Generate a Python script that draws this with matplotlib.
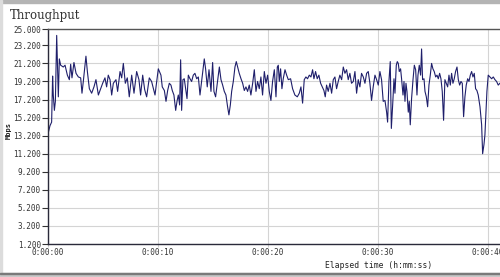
import numpy as np
import matplotlib
matplotlib.use('Agg')
from matplotlib import pyplot as plt
from matplotlib.patches import Rectangle

# elapsed time in seconds, throughput in Mbps
times = [0.00, 0.18, 0.33, 0.42, 0.48, 0.58, 0.67, 0.79, 0.94, 1.03, 1.15, 1.39, 1.55, 1.76,
         1.94, 2.06, 2.18, 2.36, 2.55, 2.76, 2.97, 3.09, 3.21, 3.45, 3.58, 3.76, 3.97, 4.18,
         4.36, 4.58, 4.79, 4.97, 5.18, 5.33, 5.48, 5.64, 5.79, 5.94, 6.18, 6.33, 6.55, 6.70,
         6.85, 7.03, 7.21, 7.39, 7.61, 7.82, 8.06, 8.27, 8.42, 8.61, 8.79, 8.97, 9.21, 9.42,
         9.73, 10.03,
         10.27, 10.39, 10.58, 10.73, 10.88, 11.03, 11.18, 11.30, 11.45, 11.61, 11.73, 11.85,
         11.97, 12.06, 12.15, 12.27, 12.39, 12.52, 12.64, 12.76, 12.91, 13.06, 13.21, 13.36,
         13.52, 13.67, 13.82, 14.03, 14.21, 14.33, 14.48, 14.64, 14.82, 14.97, 15.09, 15.24,
         15.39, 15.58, 15.73, 15.88, 16.03, 16.18, 16.33, 16.45, 16.58, 16.70, 16.85, 17.00,
         17.12, 17.24, 17.39, 17.55, 17.70, 17.85, 18.00, 18.15, 18.30, 18.45, 18.61, 18.76,
         18.91, 19.06, 19.21, 19.36, 19.51, 19.67, 19.82, 19.97, 20.12, 20.27, 20.42, 20.58,
         20.73, 20.85, 20.94, 21.03, 21.15, 21.27, 21.39, 21.55, 21.70, 21.85, 22.06, 22.24,
         22.45, 22.67, 22.85, 23.00, 23.15, 23.30, 23.45, 23.60, 23.76, 23.91, 24.06, 24.18,
         24.33, 24.48, 24.63, 24.79, 24.94, 25.09, 25.21, 25.33, 25.48, 25.64, 25.79, 25.94,
         26.09, 26.24, 26.39, 26.54, 26.70, 26.85, 27.00, 27.15, 27.30, 27.45, 27.60, 27.76,
         27.91, 28.06, 28.21, 28.36, 28.51, 28.67, 28.82, 28.97, 29.12, 29.27, 29.42, 29.57,
         29.73, 29.88, 30.03, 30.18, 30.33, 30.48,
         30.64, 30.79, 30.88, 31.00, 31.12, 31.22, 31.34, 31.46, 31.55, 31.67, 31.76, 31.85,
         31.94, 32.06, 32.15, 32.28, 32.37, 32.46, 32.55, 32.64, 32.76, 32.85, 32.94, 33.06,
         33.19, 33.31, 33.43, 33.55, 33.64, 33.76, 33.88, 33.97, 34.06, 34.19, 34.28, 34.40,
         34.52, 34.64, 34.76, 34.88, 35.00, 35.12, 35.25, 35.37, 35.49, 35.61, 35.73, 35.85,
         35.97, 36.09, 36.22, 36.34, 36.46, 36.58, 36.70, 36.82, 36.94, 37.06, 37.19, 37.31,
         37.43, 37.55, 37.67, 37.79, 37.91, 38.03, 38.16, 38.28, 38.40, 38.52, 38.64, 38.76,
         38.88, 39.00, 39.12, 39.28, 39.43, 39.52, 39.64, 39.73, 39.82, 39.91, 40.03, 40.18,
         40.34, 40.49, 40.64, 40.79, 40.94, 41.09]
mbps = [13.4, 14.3, 14.7, 19.8, 17.7, 16.0, 17.0, 24.3, 17.5, 21.7, 21.0, 20.8, 21.0, 19.9,
        19.4, 21.1, 19.6, 21.3, 20.1, 19.7, 19.6, 17.9, 19.2, 22.0, 20.3, 18.4, 17.9, 18.6,
        19.4, 17.7, 18.4, 19.0, 19.6, 18.6, 19.9, 19.4, 17.7, 19.0, 19.4, 18.1, 20.3, 19.6,
        21.2, 19.0, 19.6, 17.5, 19.9, 17.9, 20.3, 19.4, 17.7, 19.9, 18.3, 17.5, 19.6, 19.2,
        17.7, 20.6,
        19.9, 18.6, 18.2, 17.0, 18.2, 19.0, 18.8, 18.2, 17.7, 16.0, 17.0, 17.7,
        16.6, 21.6, 16.0, 19.4, 19.5, 18.4, 17.3, 19.9, 19.5, 19.2, 19.9, 20.1,
        19.5, 19.7, 17.7, 19.9, 21.7, 20.6, 18.6, 20.5, 18.1, 21.3, 18.1, 17.5,
        19.0, 20.8, 19.4, 18.8, 18.1, 17.7, 16.4, 15.5, 16.6, 18.1, 19.2, 20.8,
        21.4, 20.8, 20.1, 19.5, 19.0, 18.2, 18.6, 18.1, 18.8, 17.7, 19.0, 20.5,
        18.1, 19.2, 18.4, 19.7, 17.7, 20.3, 19.0, 19.9, 18.1, 17.1, 19.2, 20.5,
        17.5, 20.8, 21.0, 19.2, 20.6, 18.4, 19.5, 20.5, 19.9, 19.4, 19.5, 18.4,
        17.7, 17.5, 17.9, 18.6, 16.8, 19.4, 19.7, 19.5, 19.9, 19.7, 20.5, 19.5,
        20.3, 19.5, 19.9, 19.0, 18.6, 18.2, 17.5, 18.8, 18.1, 19.0, 17.9, 19.4,
        19.7, 18.4, 19.2, 19.9, 19.4, 20.8, 20.1, 20.5, 19.4, 20.1, 19.0, 19.2,
        20.3, 17.9, 19.4, 18.6, 20.1, 19.7, 19.0, 20.1, 20.3, 19.0, 17.1, 18.6,
        19.9, 19.4, 18.8, 20.3, 19.4, 17.0,
        17.1, 15.8, 14.7, 19.2, 21.4, 14.0, 16.6, 19.5, 17.9, 21.0, 21.4, 21.2,
        20.3, 20.6, 19.5, 17.7, 19.2, 17.0, 19.0, 18.1, 15.8, 17.0, 14.4, 17.3,
        19.4, 21.0, 20.5, 17.7, 19.9, 21.0, 19.9, 22.8, 19.4, 19.5, 18.1, 17.5,
        16.4, 18.8, 19.9, 21.2, 20.6, 20.3, 19.7, 19.9, 19.5, 20.1, 19.5, 18.1,
        14.9, 19.4, 19.0, 18.6, 19.9, 18.8, 20.1, 19.0, 19.5, 20.3, 20.8, 19.4,
        18.8, 19.2, 19.0, 15.3, 17.5, 18.8, 19.5, 19.2, 19.9, 20.3, 19.7, 20.1,
        18.4, 18.2, 17.7, 16.4, 14.4, 11.2, 12.2, 13.3, 15.8, 18.1, 19.9, 19.7,
        19.5, 19.7, 19.4, 19.2, 18.8, 19.0]

y_ticks = [1.2, 3.2, 5.2, 7.2, 9.2, 11.2, 13.2, 15.2, 17.2, 19.2, 21.2, 23.2, 25.0]
y_labels = ['1.200', '3.200', '5.200', '7.200', '9.200', '11.200', '13.200',
            '15.200', '17.200', '19.200', '21.200', '23.200', '25.000']
x_ticks = [0, 10, 20, 30, 40]
x_labels = ['0:00:00', '0:00:10', '0:00:20', '0:00:30', '0:00:40']

fig = plt.figure(figsize=(5, 2.77), dpi=100)
fig.patch.set_facecolor('white')

# window frame bits of the screenshot
fig.patches.append(Rectangle((0, 0.99), 1, 0.01, transform=fig.transFigure, color='#b4b4b4'))
fig.patches.append(Rectangle((0, 0), 0.004, 1, transform=fig.transFigure, color='#dcdcdc'))
fig.patches.append(Rectangle((0, 0.0), 1, 0.014, transform=fig.transFigure, color='#c8c8c8'))
fig.patches.append(Rectangle((0, 0.011), 1, 0.005, transform=fig.transFigure, color='#7a7a7a'))

ax = fig.add_axes([0.096, 0.119, 0.904, 0.776])
ax.plot(times, mbps, color='#1f1f6b', linewidth=0.8)

ax.set_xlim(0, 41.1)
ax.set_ylim(1.2, 25.0)
ax.set_yticks(y_ticks)
ax.set_yticklabels(y_labels)
ax.set_xticks(x_ticks)
ax.set_xticklabels(x_labels)

ax.grid(True, color='#d4d4d4', linewidth=0.8)
ax.set_axisbelow(True)
for side in ['left', 'bottom']:
    ax.spines[side].set_color('#2a2a3a')
    ax.spines[side].set_linewidth(1.0)
ax.spines['top'].set_color('#555555')
ax.spines['top'].set_linewidth(1.0)
ax.spines['right'].set_visible(False)

ax.tick_params(axis='y', length=4, width=0.8, color='#333333', pad=1,
               labelsize=5.5, labelcolor='#333333')
ax.tick_params(axis='x', length=2, width=0.8, color='#cccccc', pad=1,
               labelsize=5.5, labelcolor='#333333')
for lab in ax.get_xticklabels() + ax.get_yticklabels():
    lab.set_family('DejaVu Sans Mono')

fig.text(0.02, 0.945, 'Throughput', fontsize=8.5, family='DejaVu Serif',
         color='#333333', va='center', ha='left')
fig.text(0.017, 0.53, 'Mbps', fontsize=5, family='DejaVu Sans Mono', fontweight='bold',
         color='#222222', rotation=90, va='center', ha='center')
fig.text(0.757, 0.043, 'Elapsed time (h:mm:ss)', fontsize=5.8, family='DejaVu Sans Mono',
         color='#222222', va='center', ha='center')

fig.savefig('out.png', dpi=100)
